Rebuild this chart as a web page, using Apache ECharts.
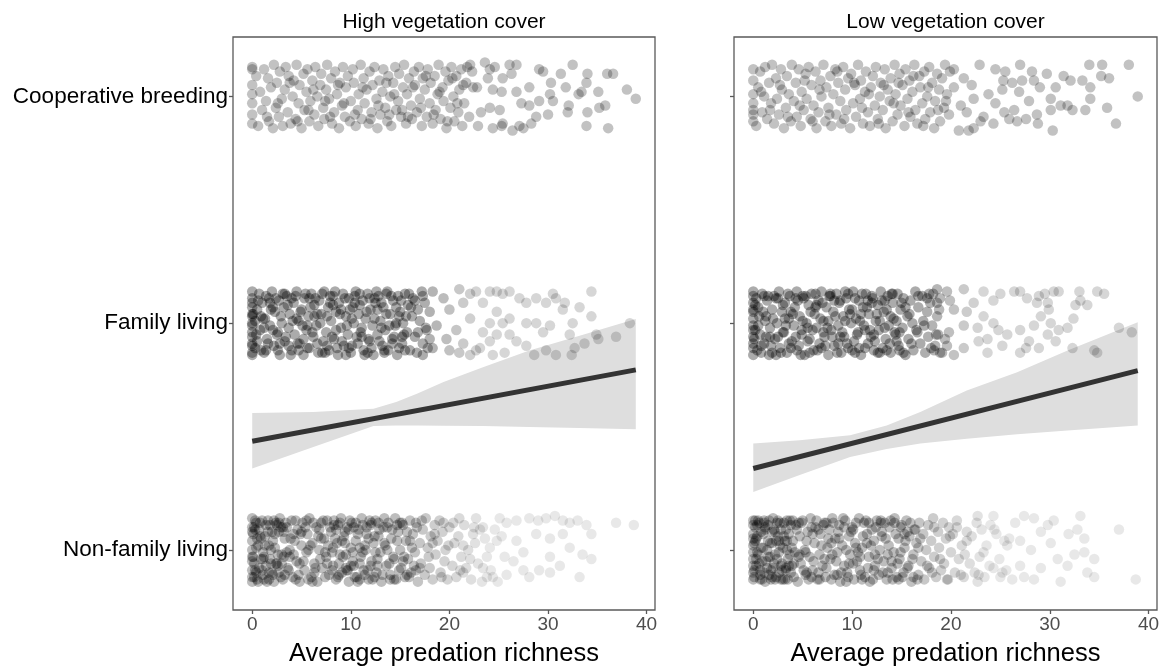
<!DOCTYPE html>
<html><head><meta charset="utf-8">
<script src="https://cdn.jsdelivr.net/npm/echarts@6/dist/echarts.min.js"></script>
<style>html,body{margin:0;padding:0;background:#fff}#c{width:1167px;height:672px}</style>
</head><body><div id="c"></div>
<script>
const panelTitles = ['High vegetation cover', 'Low vegetation cover'];
const yLabels = ['Non-family living', 'Family living', 'Cooperative breeding'];
const yTicks = [0, 1, 2];
const xTicks = [0, 10, 20, 30, 40];
const xTitle = 'Average predation richness';

// Jittered observations, flat pairs: [predation richness x10, vertical jitter x100]
const hvCoop = [0,13,0,12,0,5,0,1,0,-3,0,-8,0,-12,
4,9,6,-13,8,2,10,-6,12,12,14,-2,16,8,17,-11,19,4,21,-14,22,14,24,-5,25,6,27,-9,28,11,30,-1,31,-13,33,3,34,13,36,-7,37,9,39,-12,41,0,42,7,44,-10,45,14,47,-3,48,5,50,-14,52,10,53,-6,55,2,56,12,58,-11,59,-2,61,7,63,-8,64,13,66,0,67,-13,69,5,70,10,72,-5,73,-10,75,3,76,14,78,-1,80,8,81,-12,83,-7,84,11,86,1,88,-14,89,6,91,-4,92,13,94,-9,95,4,97,9,99,-11,100,-2,102,12,103,6,105,-13,107,-6,108,1,110,14,111,-10,113,8,114,-3,116,3,118,-12,119,11,121,-7,122,5,124,13,126,-1,127,-14,129,7,130,-8,132,2,133,12,135,-5,137,-11,138,9,140,0,141,-13,143,6,145,13,146,-6,148,-2,149,10,151,-9,153,4,154,14,156,-12,157,1,159,8,161,-4,162,-10,164,11,165,5,167,-7,169,13,170,-1,172,-13,173,8,175,3,177,-9,178,12,180,-3,181,6,183,-12,185,9,186,-6,188,1,189,14,191,-10,193,4,194,-2,196,11,197,-14,199,7,201,-5,202,13,204,0,205,-11,207,9,209,-7,210,3,212,12,213,-13,215,-3,217,6,218,13,220,-9,
15,-9,26,-3,38,6,46,-11,57,-6,62,3,74,-2,79,-9,87,5,93,-3,104,-8,112,4,120,-10,128,-4,136,6,139,-8,144,1,152,-6,158,-9,163,4,171,-5,176,9,184,-8,190,2,198,-11,203,8,208,-3,214,5,
221,14,223,11,224,4,228,4,229,-13,232,-7,236,15,239,8,241,12,241,-5,244,3,244,-14,246,13,251,-6,253,-13,253,2,254,8,254,-12,261,14,263,10,264,-15,268,2,268,14,271,-13,273,-3,275,-14,281,4,281,-4,283,-12,288,-9,291,12,291,-2,295,11,300,-8,302,1,303,6,305,-2,313,10,318,4,320,-7,321,-4,325,14,331,1,334,2,339,6,339,-13,340,10,340,-7,351,2,352,-5,358,-4,360,10,361,-14,366,10,380,3,389,-1];

const hvFam = [0,14,0,11,0,9,0,7,0,4,0,3,0,0,0,-1,0,-4,0,-6,0,-9,0,-10,0,-13,0,-14,
3,-11,5,6,7,13,8,-3,10,9,12,-13,13,2,15,-7,17,11,18,-1,20,14,22,-10,23,5,25,-5,27,10,28,-14,30,0,32,7,33,-8,35,12,37,-2,38,4,40,-12,42,9,43,-5,45,14,47,1,48,-9,50,6,52,-14,53,11,55,-3,57,3,58,-11,60,13,62,-6,63,8,65,-1,67,-13,68,10,70,4,72,-8,73,14,75,-4,77,7,78,-12,80,1,82,12,83,-7,85,5,87,-14,88,9,90,-2,92,13,93,-10,95,3,97,-5,98,11,100,-13,102,7,103,0,105,14,107,-9,108,4,110,-4,112,10,113,-12,115,2,117,13,118,-7,120,6,122,-1,123,-14,125,9,127,-5,128,12,130,1,132,-10,133,7,135,-3,137,14,138,-12,140,4,142,-7,143,10,145,-1,147,-14,148,12,150,5,152,-9,153,0,155,13,157,-4,158,8,160,-12,162,3,163,11,165,-6,167,-13,168,6,170,1,172,14,173,-9,175,9,177,-3,178,-11,
1,4,4,-5,6,10,9,-12,11,2,14,12,16,-9,19,6,21,-3,24,11,26,-12,29,3,31,13,34,-6,36,8,39,-14,41,1,44,12,46,-9,49,5,51,-1,54,13,56,-11,59,7,61,-4,64,11,66,-9,69,0,71,13,74,-13,76,3,79,9,81,-6,84,14,86,-11,89,4,91,-8,94,11,96,-1,99,6,101,-10,104,12,106,-6,109,8,111,-2,114,-14,116,5,119,11,121,-11,124,2,126,14,129,-8,131,9,134,-13,136,4,139,-1,141,12,144,-6,146,7,149,-11,151,10,154,-5,156,3,159,13,
5,-8,9,3,14,-12,18,9,26,-4,33,13,37,-10,45,2,52,-7,58,11,66,4,71,-13,79,12,85,-3,90,6,98,-11,104,9,111,-6,117,-13,124,11,131,-2,136,13,142,-9,149,3,155,-12,161,7,168,-4,173,12,3,1,12,-2,21,7,28,-9,40,11,47,-12,56,-1,63,3,76,-10,82,8,95,-14,101,2,109,13,119,-8,127,6,134,-12,146,0,152,-6,165,10,176,-2,
344,14,383,0,369,-6,349,-5,351,-7,337,-9,344,3,332,7,325,0,322,-5,327,-11,324,-14,308,-14,298,-12,286,-14,278,-10,268,-8,256,-13,278,0,288,0,295,-4,302,-1,315,6,317,9,305,13,308,11,298,9,288,11,278,9,271,11,261,14,254,13,248,14,241,14,227,14,221,13,210,15,214,9,234,9,248,5,261,2,254,0,241,0,234,-4,248,-5,261,-5,241,-8,231,-11,221,-14,210,-13,214,-9,227,-12,244,-14,200,-12,197,-7,207,-3,221,2,200,6,194,11,183,14,180,5,187,-1,180,-7,183,-11,173,-14];

const hvNon = [0,14,0,10,0,8,0,4,0,0,0,-3,0,-5,0,-9,0,-12,0,-14,
2,-6,3,9,5,-13,6,2,8,12,10,-9,11,-1,13,6,15,-14,16,13,18,-4,20,8,21,-11,23,1,25,11,26,-7,28,14,30,-2,31,-13,33,5,35,10,36,-8,38,0,40,13,41,-12,43,4,45,-5,46,9,48,-14,50,2,51,12,53,-9,55,-1,56,7,58,14,60,-12,61,3,63,-6,65,10,66,-14,68,0,70,12,71,-8,73,5,75,-3,76,13,78,-11,80,8,81,-1,83,11,85,-13,86,3,88,-6,90,14,91,-10,93,6,95,-2,96,10,98,-14,100,1,101,12,103,-7,105,4,106,-12,108,9,110,-3,111,14,113,-9,115,0,116,7,118,-13,120,11,121,-5,123,3,125,13,126,-10,128,6,130,-1,131,-14,133,10,135,2,136,-7,138,12,140,-11,141,5,143,-3,145,14,146,-13,148,8,150,0,151,-8,153,11,155,-12,156,4,158,-4,160,13,161,-10,163,7,165,-1,166,12,168,-14,170,3,171,-6,173,9,175,-11,176,14,178,1,180,-8,181,6,183,-13,185,11,186,-2,188,4,190,13,191,-10,193,8,195,-5,196,0,198,-13,200,10,203,-7,205,3,
1,7,2,-12,4,1,4,12,7,-8,9,5,12,-3,14,11,17,-10,19,0,22,13,24,-6,27,8,29,-12,32,-3,34,12,37,-9,39,5,42,-2,44,13,47,-11,49,7,52,-5,54,10,57,-13,59,2,62,12,64,-8,67,6,69,-4,72,13,74,-12,77,2,79,10,82,-7,84,5,87,-12,89,12,92,-3,94,8,97,-9,99,13,102,-1,104,-12,107,7,109,-6,112,11,114,2,117,-9,119,13,122,-13,124,6,127,-4,129,9,132,-11,134,14,137,0,139,-6,142,9,144,-13,147,4,149,-9,152,12,154,-3,157,8,159,-12,162,1,164,-7,167,10,
1,-3,2,10,3,-9,5,5,6,-14,7,9,9,-4,10,13,11,-11,13,2,14,-7,16,8,17,-13,18,11,19,-6,21,4,22,-14,23,7,24,12,26,-2,27,-10,29,10,30,-6,32,8,33,-11,82,1,85,9,88,-11,91,4,95,-8,98,9,102,-5,105,12,109,-13,112,-1,116,10,120,-7,124,-12,128,12,
4,-10,8,6,12,-13,17,2,25,-6,31,10,38,-3,44,-13,50,8,57,0,63,-10,70,5,76,-6,83,13,89,-2,96,-9,103,10,109,1,114,-11,121,12,127,-7,134,3,140,-13,147,11,153,-5,160,4,166,-9,172,13,179,-3,185,7,192,-12,199,2,3,13,11,-4,20,-10,27,12,35,-1,42,7,48,-6,55,13,61,-14,68,9,74,-1,81,-9,87,11,94,3,100,-7,107,-14,118,5,125,-1,137,10,144,-4,150,12,157,-11,170,-8,183,3,194,12,211,-9,225,10,238,-12,253,6,
204,12,207,-12,209,6,212,-3,215,11,217,-8,219,0,222,-13,226,3,229,-6,231,9,233,-14,236,5,238,-3,242,-9,246,9,249,-14,256,-3,
369,12,387,11,332,-12,344,7,344,-4,339,11,330,13,322,12,315,13,307,15,298,14,290,13,281,14,335,-2,322,1,312,-7,302,-3,302,-10,291,-9,281,-12,275,-9,268,4,275,-1,288,7,302,5,315,7,258,12,251,14,268,13,265,-5,258,-11,244,-12,241,1,248,4,234,10,234,-8,221,-4,214,-10,214,2,224,7,210,14,227,14];

const lvCoop = [0,12,0,7,0,1,0,-3,0,-6,0,-8,0,-11,
3,-13,5,4,7,11,9,-7,11,0,12,13,14,-10,16,6,18,-3,19,14,21,-12,23,8,24,-1,26,-8,28,12,29,3,31,-14,33,-5,34,9,36,1,38,-11,39,14,41,-2,43,6,44,-9,46,12,48,-13,49,2,51,-6,53,10,54,-1,56,13,58,-10,59,5,61,-4,63,11,64,-14,66,-7,68,7,69,0,71,14,73,-11,74,4,76,-5,78,9,79,-13,81,1,83,12,84,-8,86,6,88,-2,89,-12,91,13,93,3,94,-6,96,8,98,-14,99,10,101,-3,103,5,104,-9,106,14,108,-1,109,7,111,-12,113,2,114,11,116,-7,118,-13,119,4,121,9,123,-4,124,13,126,-10,128,0,129,6,131,-6,133,12,134,-14,136,3,138,-2,139,8,141,-11,143,14,144,1,146,-8,148,10,149,-4,151,5,153,-13,154,12,156,-1,158,7,159,-9,161,2,163,14,164,-6,166,-12,168,9,169,4,171,-3,173,11,174,-10,176,0,178,13,179,-7,181,6,183,-14,184,-2,186,10,188,3,189,-11,191,8,193,-5,194,14,196,1,198,-8,199,11,
8,2,17,-6,27,5,35,-9,47,-4,52,7,60,-11,67,3,77,-8,85,11,92,-10,102,6,110,-5,117,1,127,-12,132,5,142,-3,147,6,157,-7,162,9,172,-13,177,4,187,-6,195,-2,
380,14,389,0,367,-12,358,-5,360,8,352,9,353,14,340,14,341,4,341,-1,333,7,336,-6,323,-6,318,-4,311,-4,321,7,314,9,303,-15,306,4,301,-1,301,-6,297,10,288,-12,287,-8,290,4,284,7,282,11,279,-2,276,-10,270,14,269,2,272,7,267,-11,262,6,264,-6,259,-10,253,7,252,3,255,11,245,12,243,-12,254,-7,245,-3,238,1,233,-9,229,14,230,-11,223,-14,218,-15,208,-15,216,-7,210,-4,203,4,203,12,213,8,221,5,223,-1];

const lvFam = [0,14,0,12,0,9,0,6,0,5,0,2,0,-1,0,-3,0,-6,0,-9,0,-11,0,-14,
2,8,4,-12,6,3,7,-5,9,13,11,-9,12,1,14,10,16,-14,17,-2,19,6,21,12,22,-7,24,0,26,14,27,-11,29,5,31,-4,32,9,34,-13,36,2,37,12,39,-8,41,-1,42,7,44,14,46,-10,47,3,49,-5,51,11,52,-14,54,0,56,8,57,-7,59,13,61,-12,62,4,64,-2,66,10,67,-9,69,14,71,1,72,-6,74,7,76,-14,77,12,79,-3,81,5,82,-10,84,13,86,-1,87,9,89,-13,91,3,92,-6,94,11,96,-11,97,6,99,0,101,14,102,-8,104,2,106,-4,107,10,109,-14,111,7,112,-1,114,13,116,-9,117,4,119,-6,121,11,122,-12,124,1,126,8,127,-3,129,14,131,-11,132,5,134,-7,136,12,137,-1,139,-13,141,9,142,2,144,-5,146,13,147,-10,149,6,151,-2,152,11,154,-14,156,3,157,-7,159,10,161,0,162,-12,164,14,166,-4,167,7,169,-9,171,12,172,1,174,-13,176,5,177,-6,179,9,181,-1,182,13,184,-10,186,3,187,-5,189,11,191,-13,
1,-7,3,11,5,-1,8,-13,10,5,13,-6,15,12,18,-10,20,2,23,11,25,-6,28,-13,30,8,33,-1,35,13,38,-11,40,4,43,-6,45,10,48,-14,50,1,53,12,55,-8,58,5,60,-3,63,13,65,-12,68,2,70,9,73,-10,75,-2,78,12,80,-6,83,3,85,-13,88,10,90,-4,93,14,95,-9,98,4,100,-12,103,11,105,-5,108,1,110,13,113,-11,115,7,118,-3,120,12,123,-8,125,4,128,-13,130,10,133,-2,135,6,138,-9,140,13,143,-4,145,1,148,-12,150,9,
5,7,8,-10,13,3,19,-13,25,11,30,-4,38,5,44,-12,50,12,55,-2,63,7,69,-11,76,1,82,10,88,-6,96,13,103,-13,109,4,116,10,122,-5,128,1,135,-12,141,13,148,-4,154,7,160,-9,167,12,173,-1,180,-11,188,6,194,-7,199,10,2,-3,11,12,17,-6,23,-14,32,2,36,-9,43,11,49,-3,57,-13,64,8,71,-4,78,13,86,-9,93,1,100,6,107,-11,113,-3,120,9,126,-13,133,10,139,3,145,-8,152,-13,158,4,165,-3,178,13,185,-5,
370,-2,383,-4,345,-12,348,-13,323,-11,348,14,355,13,338,8,330,14,331,10,326,8,324,2,318,-2,309,-3,306,-8,298,-5,301,0,291,3,299,6,309,14,304,14,298,9,295,13,289,12,287,9,277,11,270,14,264,14,279,-8,276,-11,270,-13,289,-11,284,-1,270,-3,257,-5,252,-10,248,-3,243,0,237,-7,237,-13,228,-8,227,-2,233,3,243,10,250,13,233,14,223,9,216,5,213,-1,213,-11,203,-14,189,-13,183,-12,196,-10,198,-4,203,6,196,14,186,15,186,9,213,15,176,11];

const lvNon = [0,13,0,11,0,7,0,5,0,2,0,-1,0,-4,0,-7,0,-10,0,-13,
2,10,3,-4,5,13,7,-11,8,1,10,7,12,-14,13,-5,15,11,17,3,18,-9,20,14,22,-2,23,-12,25,6,27,12,28,-7,30,1,32,-13,33,9,35,-4,37,13,38,-10,40,4,42,-1,43,11,45,-14,47,6,48,-6,50,13,52,0,53,-11,55,8,57,-3,58,14,60,-9,62,3,63,10,65,-13,67,-2,68,7,70,-7,72,12,73,-12,75,1,77,9,78,-4,80,14,82,-11,83,5,85,-1,87,11,88,-14,90,2,92,-7,93,13,95,-10,97,6,98,-2,100,10,102,-13,103,3,105,-5,107,14,108,-9,110,1,112,12,113,-12,115,7,117,-3,118,-14,120,9,122,4,123,-7,125,13,127,-11,128,0,130,8,132,-5,133,12,135,-13,137,2,138,10,140,-8,142,-1,143,14,145,-12,147,5,148,-4,150,11,152,-10,153,1,155,13,157,-7,158,6,160,-14,162,-2,163,9,165,3,167,-11,168,12,170,-5,172,7,173,-13,175,0,177,11,178,-8,180,4,182,14,183,-3,185,-12,187,8,188,1,190,-9,192,12,193,-6,195,5,197,-13,198,10,200,-1,202,7,204,-10,206,13,208,-4,211,2,213,-12,216,8,219,-6,
1,-9,2,4,4,11,6,-6,9,-13,11,12,14,0,16,-11,19,8,21,-6,24,12,26,-1,29,-9,31,6,34,13,36,-7,39,1,41,-12,44,9,46,-3,49,12,51,-9,54,4,56,-13,59,10,61,-5,64,13,66,-10,69,2,71,11,74,-8,76,5,79,-13,81,12,84,-5,86,8,89,-10,91,14,94,0,96,-12,99,8,101,-6,104,12,106,-1,109,-11,111,6,114,13,116,-8,119,2,121,-13,124,10,126,-4,129,12,131,-10,134,5,136,-2,139,13,141,-13,144,7,146,-6,149,10,151,-12,154,4,156,-8,159,12,161,-4,164,9,166,-13,
1,3,1,-12,2,13,3,-7,4,6,5,-2,6,12,7,-13,8,8,9,-5,10,1,11,-10,12,10,14,-8,15,4,16,13,17,-3,18,-13,19,3,20,-8,21,9,22,-13,23,4,24,-4,25,13,26,-10,27,2,28,9,29,-6,30,-13,31,12,32,4,33,-9,34,0,35,-13,36,7,37,-2,38,11,39,-7,
3,5,7,-9,11,13,15,-3,22,8,28,-13,34,4,41,-6,46,12,53,-1,59,-12,66,9,72,-4,79,3,85,-11,92,10,97,-6,104,1,110,-13,117,12,123,-2,130,6,136,-10,143,12,149,-1,156,8,162,-12,169,5,176,-7,183,10,189,-4,196,-13,4,-1,12,9,19,-12,26,4,33,-8,40,13,47,-2,54,-10,60,7,67,-13,74,12,80,-2,87,5,94,-14,101,9,108,-3,115,3,122,-9,129,13,140,-5,147,-13,153,7,167,1,181,-10,199,6,214,-2,228,-11,244,9,257,2,
221,6,224,-10,226,12,229,-3,231,9,234,-12,236,2,239,-7,246,7,249,-4,256,-9,259,5,262,-13,
370,9,387,-13,331,15,345,-4,345,-12,338,-10,335,5,335,-1,325,-2,328,9,319,7,318,-7,311,-14,308,-4,304,13,298,11,301,3,291,8,291,-8,284,-13,274,-12,281,0,270,4,270,-7,265,12,284,14,274,15,250,-12,252,-10,243,-8,254,4,243,15,240,11,227,15,233,-1,227,-14,216,4,206,10,210,-11];

// Fitted line (endpoints) and confidence band
const hvLine = [[0, 0.479], [38.9, 0.794]];
const lvLine = [[0, 0.359], [38.9, 0.791]];
const hvBandX = [0, 6.2, 12.3, 14.6, 16.7, 19.4, 23.4, 28.1, 33.2, 38.9];
const hvBandHi = [0.604, 0.608, 0.623, 0.652, 0.689, 0.740, 0.806, 0.879, 0.945, 1.018];
const hvBandLo = [0.359, 0.454, 0.547, 0.549, 0.549, 0.548, 0.546, 0.542, 0.538, 0.532];
const lvBandX = [0, 4.7, 9.8, 13.5, 16.9, 21.6, 26.7, 31.8, 38.9];
const lvBandHi = [0.469, 0.484, 0.506, 0.549, 0.608, 0.703, 0.784, 0.879, 1.004];
const lvBandLo = [0.255, 0.330, 0.410, 0.445, 0.469, 0.490, 0.510, 0.527, 0.549];

function pts(flat, base) {
  const out = [];
  for (let i = 0; i < flat.length; i += 2) out.push([flat[i] / 10, base + flat[i + 1] / 100]);
  return out;
}

const FONT = '"Liberation Sans", Arial, Helvetica, sans-serif';
const chart = echarts.init(document.getElementById('c'), null, {renderer: 'canvas'});

const panels = [
  {coop: hvCoop, fam: hvFam, non: hvNon, line: hvLine, bx: hvBandX, bh: hvBandHi, bl: hvBandLo},
  {coop: lvCoop, fam: lvFam, non: lvNon, line: lvLine, bx: lvBandX, bh: lvBandHi, bl: lvBandLo}
];
const gridLeft = [233, 734];
const gridW = [422, 423];

const grids = [], xAxes = [], yAxes = [], series = [], famIdx = [], nonIdx = [];
panels.forEach((p, i) => {
  grids.push({left: gridLeft[i], top: 37, width: gridW[i], height: 575, show: true,
    borderColor: '#595959', borderWidth: 1.3, backgroundColor: 'transparent'});
  xAxes.push({gridIndex: i, type: 'value', min: -1.95, max: 40.85, position: 'bottom',
    axisLine: {show: false, onZero: false}, splitLine: {show: false},
    axisTick: {show: true, length: 4, customValues: xTicks, lineStyle: {color: '#595959', width: 1.3}},
    axisLabel: {customValues: xTicks, color: '#4d4d4d', fontSize: 19, margin: 5, fontFamily: FONT},
    name: xTitle, nameLocation: 'middle', nameGap: 31,
    nameTextStyle: {fontSize: 25.5, color: '#000', fontFamily: FONT}});
  yAxes.push({gridIndex: i, type: 'value', min: -0.265, max: 2.262, position: 'left',
    axisLine: {show: false, onZero: false}, splitLine: {show: false},
    axisTick: {show: true, length: 4, customValues: yTicks, lineStyle: {color: '#595959', width: 1.3}},
    axisLabel: {show: i === 0, customValues: yTicks, color: '#000', fontSize: 22.5, margin: 5, fontFamily: FONT,
      formatter: v => yLabels[Math.round(v)]}});
  series.push({type: 'custom', xAxisIndex: i, yAxisIndex: i, z: 1, silent: true,
    data: [[0, 0]],
    renderItem: (params, api) => {
      const ptsArr = [];
      for (let k = 0; k < p.bx.length; k++) ptsArr.push(api.coord([p.bx[k], p.bh[k]]));
      for (let k = p.bx.length - 1; k >= 0; k--) ptsArr.push(api.coord([p.bx[k], p.bl[k]]));
      return {type: 'polygon', shape: {points: ptsArr}, style: {fill: '#dedede'}};
    }});
  const sc = (data, op) => ({type: 'scatter', xAxisIndex: i, yAxisIndex: i, z: 2, silent: true,
    symbol: 'circle', symbolSize: 10.5, data: data, itemStyle: {color: '#000', opacity: op}});
  series.push(sc(pts(p.coop, 2), 0.24));
  famIdx.push(series.length); series.push(sc(pts(p.fam, 1), 0.3));
  nonIdx.push(series.length); series.push(sc(pts(p.non, 0), 0.25));
  series.push({type: 'line', xAxisIndex: i, yAxisIndex: i, z: 5, silent: true, symbol: 'none',
    data: p.line, lineStyle: {color: '#333333', width: 5}});
});

chart.setOption({
  animation: false,
  backgroundColor: '#fff',
  grid: grids, xAxis: xAxes, yAxis: yAxes, series: series,
  visualMap: [
    {type: 'continuous', show: false, dimension: 0, min: 17, max: 23, seriesIndex: famIdx,
     inRange: {opacity: [0.33, 0.16]}},
    {type: 'continuous', show: false, dimension: 0, min: 15, max: 24, seriesIndex: nonIdx,
     inRange: {opacity: [0.26, 0.09]}}
  ],
  graphic: panelTitles.map((t, i) => ({type: 'text', x: gridLeft[i] + gridW[i] / 2, y: 22,
    style: {text: t, align: 'center', verticalAlign: 'middle', font: '21px ' + FONT, fill: '#000'}}))
});
</script></body></html>
